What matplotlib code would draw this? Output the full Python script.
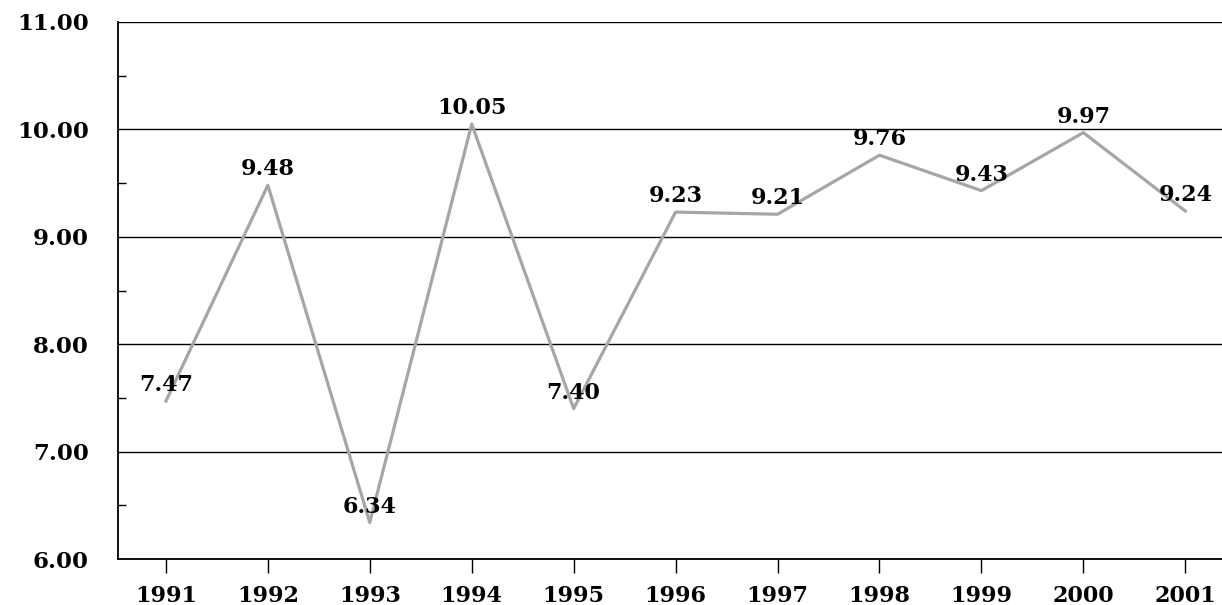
import numpy as np
import matplotlib.pyplot as plt
from matplotlib.ticker import MultipleLocator

#---------------------------------------------------------------------#
years = [1991, 1992, 1993, 1994, 1995, 1996, 1997, 1998, 1999, 2000, 2001]
values = [7.47, 9.48, 6.34, 10.05, 7.40, 9.23, 9.21, 9.76, 9.43, 9.97, 9.24]
labels = ["7.47", "9.48", "6.34", "10.05", "7.40", "9.23", "9.21", "9.76", "9.43", "9.97", "9.24"]
#---------------------------------------------------------------------#

tick_font = dict(family="DejaVu Serif", weight="bold", size=16.5)
xtick_font = dict(family="DejaVu Serif", weight="bold", size=16)
label_font = dict(family="DejaVu Serif", weight="bold", size=16)

fig = plt.figure(figsize=(12.22, 6.05), dpi=100)
ax = fig.add_axes([118 / 1222, 1 - 559 / 605, 1 - 118 / 1222, (559 - 22) / 605])

ax.plot(years, values, color="#a6a6a6", lw=2.3, zorder=3)
for x, y, t in zip(years, values, labels):
    ax.annotate(t, (x, y), xytext=(0, 11.5), textcoords="offset points",
                ha="center", va="center", zorder=4, **label_font)

ax.set_ylim(6, 11)
ax.set_xlim(1991 - 0.47, 2001 + 0.36)
ax.set_yticks(np.arange(6, 11.01, 1))
ax.set_yticklabels([f"{v:.2f}" for v in np.arange(6, 11.01, 1)], **tick_font)
ax.yaxis.set_minor_locator(MultipleLocator(0.5))
ax.set_xticks(years)
ax.set_xticklabels([str(y) for y in years], **xtick_font)

ax.grid(axis="y", which="major", color="black", lw=1.0)
ax.tick_params(axis="y", which="major", length=0, pad=21)
ax.tick_params(axis="y", which="minor", direction="in", length=6, width=1)
ax.tick_params(axis="x", which="major", direction="out", length=10, width=1, pad=9)

for s in ["top", "right"]:
    ax.spines[s].set_visible(False)
ax.spines["left"].set_linewidth(1.3)
ax.spines["bottom"].set_linewidth(1.3)

fig.savefig("out.png", dpi=100)
